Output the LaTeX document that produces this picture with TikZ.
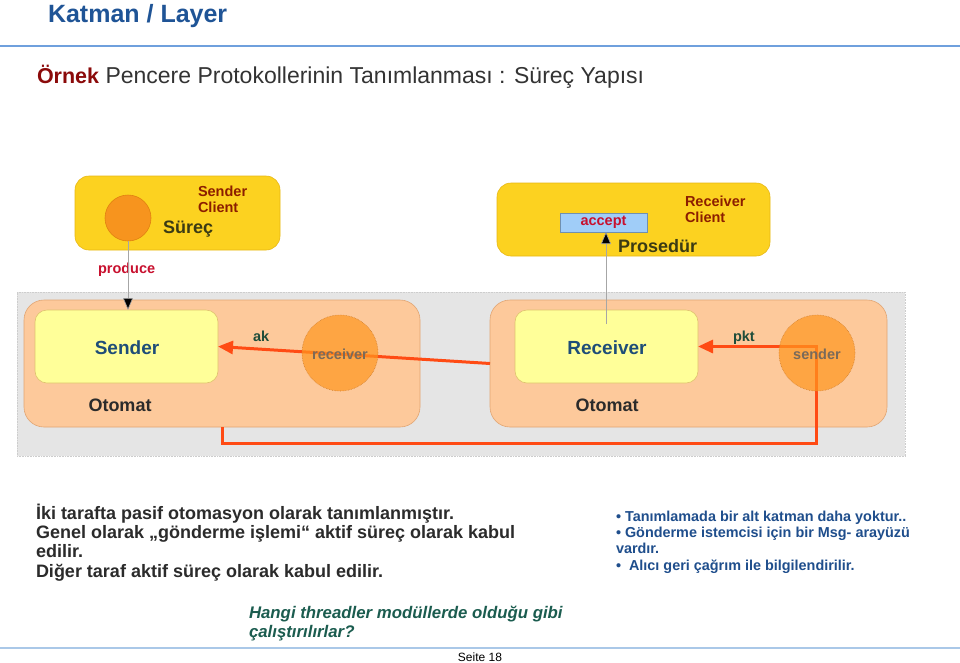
\documentclass[tikz,border=0pt]{standalone}
\usepackage{fontspec}
\setmainfont{Liberation Sans}
\usetikzlibrary{arrows.meta,calc}
\definecolor{titleblue}{RGB}{31,84,150}
\definecolor{lineblue}{RGB}{111,160,221}
\definecolor{lineblue2}{RGB}{170,200,232}
\definecolor{ornekred}{RGB}{139,10,10}
\definecolor{subgray}{RGB}{51,51,51}
\definecolor{clientyellow}{RGB}{252,210,32}
\definecolor{clientborder}{RGB}{232,184,20}
\definecolor{procorange}{RGB}{247,148,30}
\definecolor{procborder}{RGB}{224,128,16}
\definecolor{clienttext}{RGB}{140,30,0}
\definecolor{olivetext}{RGB}{59,59,20}
\definecolor{producered}{RGB}{200,16,46}
\definecolor{bggray}{RGB}{229,229,229}
\definecolor{bgborder}{RGB}{205,205,205}
\definecolor{peach}{RGB}{253,201,155}
\definecolor{peachborder}{RGB}{225,165,115}
\definecolor{paleyellow}{RGB}{255,255,153}
\definecolor{paleborder}{RGB}{222,195,110}
\definecolor{boxblue}{RGB}{30,77,120}
\definecolor{darktext}{RGB}{43,43,43}
\definecolor{circfill}{RGB}{255,150,30}
\definecolor{circborder}{RGB}{208,128,48}
\definecolor{circtext}{RGB}{122,106,90}
\definecolor{arrred}{RGB}{255,75,20}
\definecolor{akgreen}{RGB}{30,77,58}
\definecolor{acceptblue}{RGB}{160,205,248}
\definecolor{acceptborder}{RGB}{112,144,176}
\definecolor{bulletblue}{RGB}{31,78,140}
\definecolor{questgreen}{RGB}{27,92,79}
\begin{document}
\begin{tikzpicture}[x=1pt,y=-1pt,
  every node/.style={inner sep=0pt, outer sep=0pt},
  clientbox/.style={draw=clientborder, fill=clientyellow, rounded corners=14pt, line width=0.6pt},
  peachbox/.style={draw=peachborder, fill=peach, rounded corners=20pt, line width=0.6pt},
  palebox/.style={draw=paleborder, fill=paleyellow, rounded corners=12pt, line width=0.6pt},
  looseproc/.style={circle, draw=circborder, densely dotted, fill=circfill, fill opacity=0.7, line width=0.6pt, minimum size=76pt},
  redarrow/.style={draw=arrred, line width=3pt, -{Triangle[length=15pt,width=13pt]}},
  thinarrow/.style={draw=gray!70, line width=0.6pt, -{Triangle[length=12pt,width=10pt,fill=black]}},
  lbl/.style={font=\fontsize{14.5}{16}\selectfont\bfseries},
  big/.style={font=\fontsize{19}{21}\selectfont\bfseries},
  body/.style={font=\fontsize{18}{19.3}\selectfont\bfseries, text=darktext, anchor=base west},
  bullet/.style={font=\fontsize{14.4}{16}\selectfont\bfseries, text=bulletblue, anchor=base west},
  quest/.style={font=\fontsize{16.8}{19}\selectfont\bfseries\itshape, text=questgreen, anchor=base west}
]
\useasboundingbox[fill=white] (0,0) rectangle (960,662);

% header
\node[anchor=base west, font=\fontsize{25}{27}\selectfont\bfseries, text=titleblue] (title) at (48,22) {Katman / Layer};
\draw[lineblue, line width=2pt] (0,46) -- (960,46);
\node[anchor=base west, font=\fontsize{23}{25}\selectfont, text=subgray] (subtitle) at (37,83)
  {\textcolor{ornekred}{\fontsize{21.5}{24}\selectfont\bfseries Örnek} Pencere Protokollerinin Tanımlanması : Süreç Yapısı};

% client boxes
\node[clientbox, anchor=north west, minimum width=205pt, minimum height=74pt] (scbox) at (75,176) {};
\node[circle, draw=procborder, fill=procorange, line width=0.6pt, minimum size=46pt] (sc) at (128,218) {};
\node[lbl, text=clienttext, anchor=base west] (scl1) at (198,196) {Sender};
\node[lbl, text=clienttext, anchor=base west] (scl2) at (198,212) {Client};
\node[font=\fontsize{18}{20}\selectfont\bfseries, text=olivetext, anchor=base west] (surec) at (163,233) {Süreç};
\node[lbl, text=producered, anchor=base west] (produce) at (98,273) {produce};

\node[clientbox, anchor=north west, minimum width=273pt, minimum height=73pt] (rcbox) at (497,183) {};
\node[draw=acceptborder, fill=acceptblue, line width=0.6pt, anchor=north west, minimum width=87pt, minimum height=19pt] (acc) at (560,213) {};
\node[lbl, text=producered] (acctext) at (acc) {accept};
\node[lbl, text=clienttext, anchor=base west] (rcl1) at (685,206) {Receiver};
\node[lbl, text=clienttext, anchor=base west] (rcl2) at (685,222) {Client};
\node[font=\fontsize{18}{20}\selectfont\bfseries, text=olivetext, anchor=base west] (prosedur) at (618,252) {Prosedür};

% layer background
\node[draw=bgborder, densely dotted, fill=bggray, line width=0.6pt, anchor=north west, minimum width=888pt, minimum height=164pt] (layer) at (17,292) {};
\node[peachbox, anchor=north west, minimum width=396pt, minimum height=127pt] (peachL) at (24,300) {};
\node[peachbox, anchor=north west, minimum width=397pt, minimum height=127pt] (peachR) at (490,300) {};
\node[palebox, anchor=north west, minimum width=183pt, minimum height=73pt] (senderbox) at (35,310) {};
\node[palebox, anchor=north west, minimum width=183pt, minimum height=73pt] (receiverbox) at (515,310) {};
\node[big, text=boxblue, anchor=base] (sendert) at (127,354) {Sender};
\node[big, text=boxblue, anchor=base] (receivert) at (607,354) {Receiver};
\node[font=\fontsize{18}{20}\selectfont\bfseries, text=darktext, anchor=base] (otomatL) at (120,411) {Otomat};
\node[font=\fontsize{18}{20}\selectfont\bfseries, text=darktext, anchor=base] (otomatR) at (607,411) {Otomat};

% red connectors
\coordinate (c1) at (222,427);
\coordinate (c2) at (816,443);
\draw[redarrow] (peachR.west) -- (senderbox.east);
\draw[redarrow] (c1) |- (c2) |- (receiverbox.east);

% loose processes
\node[looseproc] (rcv) at (340,353) {};
\node[looseproc] (snd) at (817,353) {};
\node[lbl, text=circtext, anchor=base] (rcvt) at (340,359) {receiver};
\node[lbl, text=circtext, anchor=base] (sndt) at (817,359) {sender};
\node[lbl, text=akgreen, anchor=base west] (ak) at (253,341) {ak};
\node[lbl, text=akgreen, anchor=base west] (pkt) at (733,341) {pkt};

% thin arrows
\draw[thinarrow] (sc.south) -- (sc.south |- senderbox.north);
\coordinate (rstart) at (606,324);
\draw[thinarrow] (rstart) -- (rstart |- acc.south);

% texts
\node[body] (b1) at (36,519) {İki tarafta pasif otomasyon olarak tanımlanmıştır.};
\node[body] (b2) at (36,538) {Genel olarak „gönderme işlemi“ aktif süreç olarak kabul};
\node[body] (b3) at (36,557) {edilir.};
\node[body] (b4) at (36,577) {Diğer taraf aktif süreç olarak kabul edilir.};

\node[bullet] (r1) at (616,521) {• Tanımlamada bir alt katman daha yoktur..};
\node[bullet] (r2) at (616,537) {• Gönderme istemcisi için bir Msg- arayüzü};
\node[bullet] (r3) at (616,553) {vardır.};
\node[bullet] (r4) at (616,570) {•\ \ Alıcı geri çağrım ile bilgilendirilir.};

\node[quest] (q1) at (249,618) {Hangi threadler modüllerde olduğu gibi};
\node[quest] (q2) at (249,637) {çalıştırılırlar?};

\draw[lineblue2, line width=1.2pt] (0,648) -- (960,648);
\node[anchor=base, font=\fontsize{12}{14}\selectfont] (seite) at (480,661) {Seite 18};
\end{tikzpicture}
\end{document}
